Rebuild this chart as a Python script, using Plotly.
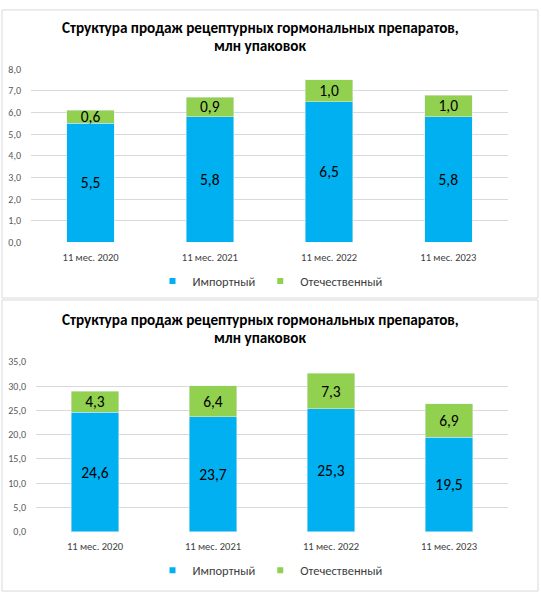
import plotly.graph_objects as go

categories = ["11 мес. 2020", "11 мес. 2021", "11 мес. 2022", "11 мес. 2023"]
import_top = [5.5, 5.8, 6.5, 5.8]
domestic_top = [0.6, 0.9, 1.0, 1.0]
import_bottom = [24.6, 23.7, 25.3, 19.5]
domestic_bottom = [4.3, 6.4, 7.3, 6.9]
title_line1 = "Структура продаж рецептурных гормональных препаратов,"
title_line2 = "млн упаковок"
series_names = ["Импортный", "Отечественный"]

BLUE = "#00B0F0"
GREEN = "#92D050"
FONT = "Calibri, Carlito, Lato"
W, H = 541, 600

def px_x(p):
    return p / W

def px_y(p):
    return 1 - p / H

fig = go.Figure()

def add_bars(imp, dom, xa, ya, legend):
    for vals, name, col in [(imp, series_names[0], BLUE), (dom, series_names[1], GREEN)]:
        fig.add_trace(go.Bar(x=categories, y=vals, name=name, marker_color=col,
                             xaxis=xa, yaxis=ya, showlegend=False,
                             texttemplate="%{y:.1f}", textposition="inside", insidetextanchor="middle",
                             constraintext="none", textangle=0,
                             textfont=dict(size=15.5, color="#000000", family=FONT)))
    for name, col in [(series_names[0], BLUE), (series_names[1], GREEN)]:
        fig.add_trace(go.Scatter(x=[None], y=[None], mode="markers", name=name, xaxis=xa, yaxis=ya,
                                 legend=legend, showlegend=True,
                                 marker=dict(symbol="square", size=6, color=col)))

add_bars(import_top, domestic_top, "x", "y", "legend")
add_bars(import_bottom, domestic_bottom, "x2", "y2", "legend2")

xcommon = dict(showgrid=False, zeroline=False, showline=False, ticks="outside", ticklen=5,
               tickcolor="rgba(0,0,0,0)", tickfont=dict(size=10.5, color="#404040", family=FONT),
               fixedrange=True)
ycommon = dict(showgrid=True, gridcolor="#D9D9D9", gridwidth=1, zeroline=False, showline=False,
               ticks="outside", ticklen=7, tickcolor="rgba(0,0,0,0)",
               tickfont=dict(size=10, color="#595959", family=FONT), tickformat=".1f",
               fixedrange=True)

shapes = [
    dict(type="rect", xref="paper", yref="paper", x0=px_x(2), x1=px_x(538), y0=px_y(298), y1=px_y(3),
         line=dict(color="#D9D9D9", width=1), fillcolor="rgba(0,0,0,0)", layer="below"),
    dict(type="rect", xref="paper", yref="paper", x0=px_x(2), x1=px_x(538), y0=px_y(598), y1=px_y(300),
         line=dict(color="#D9D9D9", width=1), fillcolor="rgba(0,0,0,0)", layer="below"),
]

annotations = []
for y1, y2 in [(21, 39.5), (320, 338.5)]:
    annotations.append(dict(text=f"<b>{title_line1}</b>", xref="paper", yref="paper", x=px_x(260), y=px_y(y1),
                            showarrow=False, xanchor="center", yanchor="middle",
                            font=dict(size=15.2, color="#000000", family=FONT)))
    annotations.append(dict(text=f"<b>{title_line2}</b>", xref="paper", yref="paper", x=px_x(260), y=px_y(y2),
                            showarrow=False, xanchor="center", yanchor="middle",
                            font=dict(size=15.2, color="#000000", family=FONT)))

legend_common = dict(orientation="h", xanchor="center", yanchor="middle", traceorder="normal",
                     font=dict(size=12.5, color="#404040", family=FONT), bgcolor="rgba(0,0,0,0)",
                     itemwidth=30, itemclick=False, itemdoubleclick=False)

fig.update_layout(
    width=W, height=H,
    margin=dict(l=0, r=0, t=0, b=0),
    paper_bgcolor="white", plot_bgcolor="white",
    separators=", ",
    barmode="stack", bargap=0.6,
    showlegend=True,
    xaxis=dict(domain=[px_x(31), px_x(508)], anchor="y", **xcommon),
    yaxis=dict(domain=[px_y(241), px_y(63.5)], anchor="x", range=[0, 8], dtick=1, **ycommon),
    xaxis2=dict(domain=[px_x(36), px_x(508)], anchor="y2", **xcommon),
    yaxis2=dict(domain=[px_y(537.3), px_y(363.3)], anchor="x2", range=[0, 35], dtick=5, **ycommon),
    legend=dict(x=px_x(270), y=px_y(281), **legend_common),
    legend2=dict(x=px_x(270), y=px_y(577), **legend_common),
    shapes=shapes,
    annotations=annotations,
)

fig.write_html("out.html", config={"displayModeBar": False},
               post_script="document.body.style.margin='0';document.body.style.overflow='hidden';")
